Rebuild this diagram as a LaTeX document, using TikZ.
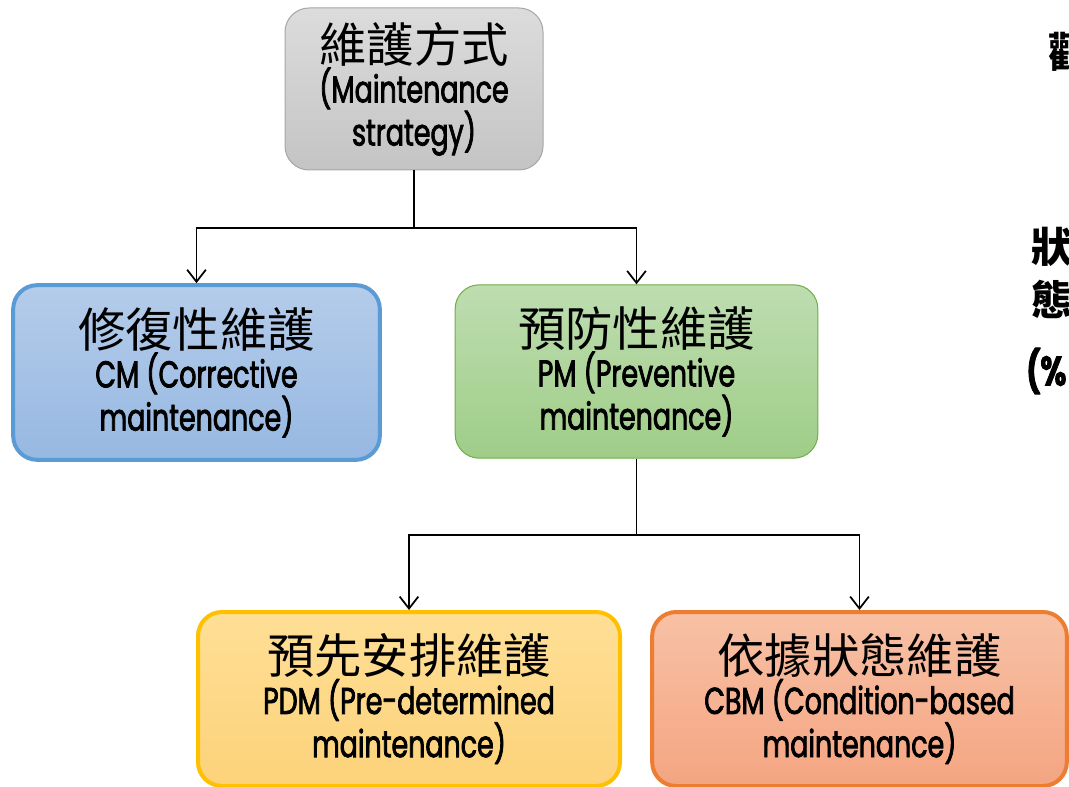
\documentclass[tikz,border=0pt]{standalone}
\usepackage{fontspec}
\setmainfont[FakeStretch=0.72, FakeBold=2]{Poppins}
\newfontfamily\cjk{Noto Sans CJK TC}
\usetikzlibrary{arrows.meta}
\definecolor{grayTop}{HTML}{DCDCDC}
\definecolor{grayBot}{HTML}{C4C4C4}
\definecolor{grayLine}{HTML}{A6A6A6}
\definecolor{blueTop}{HTML}{B5CCEA}
\definecolor{blueBot}{HTML}{96B8E2}
\definecolor{blueLine}{HTML}{5B9BD5}
\definecolor{greenTop}{HTML}{BEDDB0}
\definecolor{greenBot}{HTML}{9FCD88}
\definecolor{greenLine}{HTML}{70AD47}
\definecolor{yellowTop}{HTML}{FEDF96}
\definecolor{yellowBot}{HTML}{FDD27A}
\definecolor{yellowLine}{HTML}{FFC000}
\definecolor{orangeTop}{HTML}{F8C1A5}
\definecolor{orangeBot}{HTML}{F4A582}
\definecolor{orangeLine}{HTML}{ED7D31}
\newcommand{\zh}[1]{{\cjk\fontsize{35.5}{38}\selectfont #1}}
\begin{document}
\begin{tikzpicture}[x=0.75pt, y=-0.75pt,
    box/.style={rectangle, rounded corners=18pt, align=center, inner sep=2pt, font=\fontsize{28}{30}\selectfont},
    topbox/.style={box, top color=grayTop, bottom color=grayBot, draw=grayLine, line width=0.75pt, minimum width=193.5pt, minimum height=121.5pt},
    cmbox/.style={box, top color=blueTop, bottom color=blueBot, draw=blueLine, line width=3pt, minimum width=275pt, minimum height=131pt},
    pmbox/.style={box, top color=greenTop, bottom color=greenBot, draw=greenLine, line width=0.75pt, minimum width=272pt, minimum height=130pt},
    pdmbox/.style={box, top color=yellowTop, bottom color=yellowBot, draw=yellowLine, line width=3pt, minimum width=316.5pt, minimum height=130.5pt},
    cbmbox/.style={box, top color=orangeTop, bottom color=orangeBot, draw=orangeLine, line width=3pt, minimum width=311pt, minimum height=130.5pt},
    arrow/.style={-{Straight Barb[length=9pt, width=14pt]}, line width=1.3pt},
    edge/.style={font=\cjk\bfseries\fontsize{31}{34}\selectfont, anchor=west, inner sep=0pt}
]
\useasboundingbox (0,0) rectangle (1069,787);
\clip (0,0) rectangle (1069,787);
% Top level
\node[topbox] (top) at (414, 89) {\zh{維護方式}\\(Maintenance\\strategy)};
% Second level
\node[cmbox] (cm) at (196.5, 372.5) {\zh{修復性維護}\\CM (Corrective\\maintenance)};
\node[pmbox] (pm) at (636.5, 371.5) {\zh{預防性維護}\\PM (Preventive\\maintenance)};
% Third level
\node[pdmbox] (pdm) at (409, 699) {\zh{預先安排維護}\\PDM (Pre-determined\\maintenance)};
\node[cbmbox] (cbm) at (859.5, 699) {\zh{依據狀態維護}\\CBM (Condition-based\\maintenance)};
% Connectors
\coordinate (split1) at (414, 228);
\coordinate (split2) at (636.5, 535);
\draw[line width=1.3pt] (top.south) -- (split1);
\draw[arrow] (split1) -| (cm.north);
\draw[arrow] (split1) -| (pm.north);
\draw[line width=1.3pt] (pm.south) -- (split2);
\draw[arrow] (split2) -| (pdm.north);
\draw[arrow] (split2) -| (cbm.north);
% Cut-off labels at the right edge
\node[edge] (e1) at (1048, 52) {觀};
\node[edge] (e2) at (1031, 247) {狀};
\node[edge] (e3) at (1031, 299) {態};
\node[edge, font=\bfseries\fontsize{31}{34}\selectfont] (e4) at (1026, 371) {(\%};
\end{tikzpicture}
\end{document}
